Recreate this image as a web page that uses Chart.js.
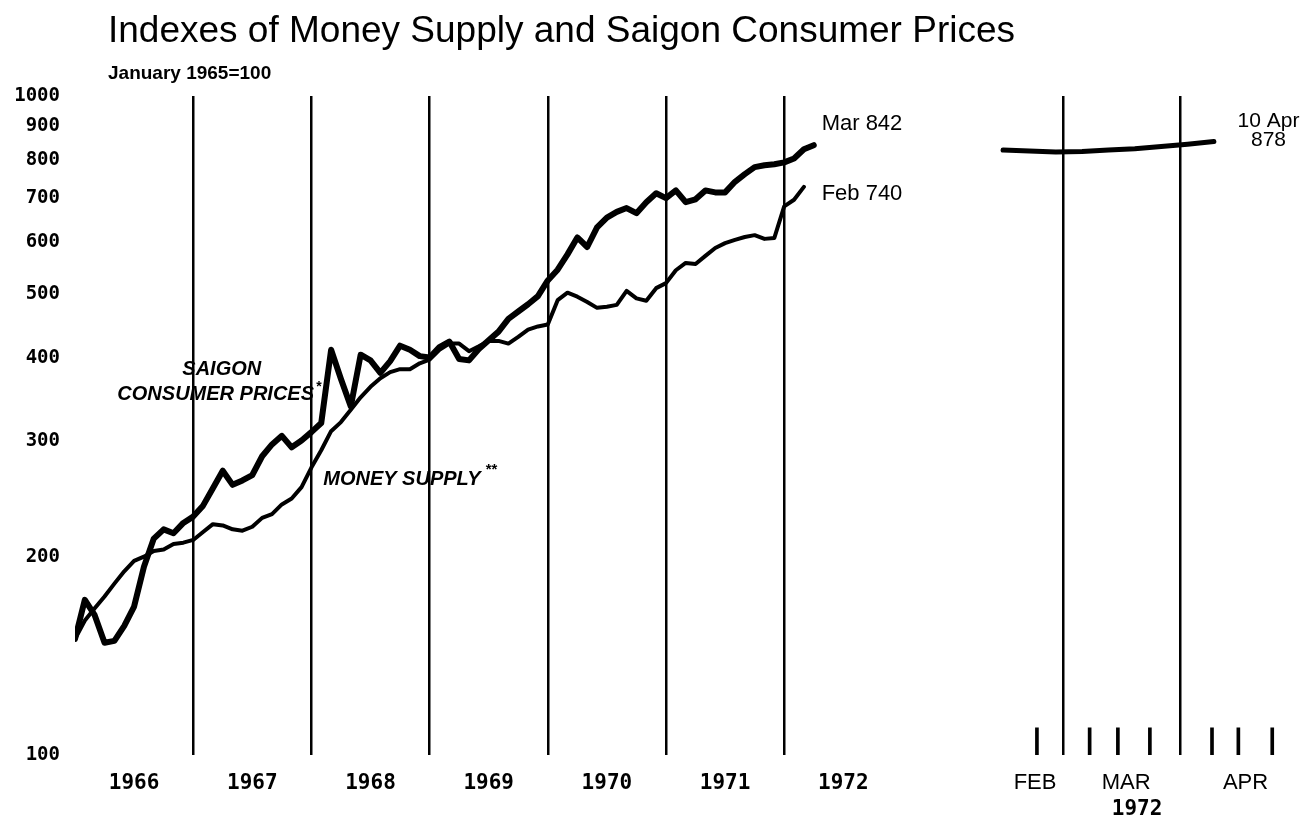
<!DOCTYPE html>
<html>
<head>
<meta charset="utf-8">
<title>Indexes of Money Supply and Saigon Consumer Prices</title>
<script src="https://cdn.jsdelivr.net/npm/chart.js@4.4.1/dist/chart.umd.min.js"></script>
<style>
  html, body { margin: 0; padding: 0; background: #fff; }
  body { position: relative; width: 1304px; height: 820px; overflow: hidden; }
  canvas { position: absolute; top: 0; }
  #monthly { left: 0; }
  #weekly { left: 960px; }
  .head { position: absolute; left: 108px; white-space: nowrap; color: #000; line-height: 1;
          font-family: 'Liberation Sans', Arial, sans-serif; }
  #title { top: 11px; font-size: 37px; }
  #subtitle { top: 63px; font-size: 19px; font-weight: bold; }
</style>
</head>
<body>
<canvas id="monthly" width="960" height="820"></canvas>
<canvas id="weekly" width="344" height="820"></canvas>
<div class="head" id="title">Indexes of Money Supply and Saigon Consumer Prices</div>
<div class="head" id="subtitle">January 1965=100</div>
<script>
const years = ['1966', '1967', '1968', '1969', '1970', '1971', '1972'];
const yTicks = [100, 200, 300, 400, 500, 600, 700, 800, 900, 1000];

// monthly index, Dec 1965 .. Mar 1972
const consumerPrices = [
  150, 172, 163, 148, 149, 157, 168, 193, 213, 220, 217, 225,
  230, 239, 254, 270, 257, 261, 266, 284, 296, 305, 293, 300,
  309, 319, 412, 372, 338, 405, 397, 380, 396, 418, 412, 403,
  401, 416, 424, 399, 397, 413, 426, 439, 459, 471, 483, 497,
  525, 545, 575, 610, 590, 632, 654, 667, 676, 664, 690, 712,
  700, 719, 690, 697, 719, 714, 714, 741, 761, 780, 785, 788,
  793, 804, 830, 842
];

// monthly index, Dec 1965 .. Feb 1972
const moneySupply = [
  150, 160, 167, 174, 182, 190, 197, 200, 204, 205, 209, 210,
  212, 218, 224, 223, 220, 219, 222, 229, 232, 240, 245, 255,
  273, 290, 310, 320, 334, 349, 362, 373, 381, 385, 385, 393,
  398, 412, 421, 421, 410, 417, 425, 425, 421, 431, 442, 447,
  450, 490, 503, 496, 487, 477, 479, 482, 506, 493, 489, 511,
  520, 544, 558, 556, 572, 588, 598, 605, 611, 615, 607, 609,
  680, 696, 728
];

// weekly prices 1972, x = days counted from 1 Feb
const weekDays = [13, 20, 27, 34, 41, 48, 55, 62, 69];
const weeklyPrices = [828, 825, 822, 824, 828, 832, 838, 845, 853];
const weekMarks = [22, 36, 43.5, 52, 68.5, 75.5, 84.5];
const monthStarts = [29, 60];
const monthNames = ['FEB', 'MAR', 'APR'];
const monthNameDays = [21.5, 45.7, 77.4];

const SANS = "'Liberation Sans', Arial, sans-serif";
const MONO = "'DejaVu Sans Mono', monospace";
const BLACK = '#000';
const CLEAR = 'rgba(0,0,0,0)';

Chart.defaults.color = BLACK;
Chart.defaults.font.family = SANS;

// free text placed in data coordinates
const notes = {
  id: 'notes',
  afterDraw(chart, args, opts) {
    const ctx = chart.ctx, xs = chart.scales.x, ys = chart.scales.y;
    ctx.save();
    ctx.fillStyle = BLACK;
    ctx.textBaseline = 'middle';
    opts.items.forEach(n => {
      ctx.font = n.font;
      ctx.textAlign = n.align || 'left';
      ctx.fillText(n.text, xs.getPixelForValue(n.x), ys.getPixelForValue(n.y));
    });
    ctx.restore();
  }
};

function lineSet(label, xs, ys, width) {
  return {
    type: 'line',
    label: label,
    data: ys.map((v, i) => ({ x: xs[i], y: v })),
    borderColor: BLACK,
    borderWidth: width,
    borderCapStyle: 'round',
    borderJoinStyle: 'round',
    pointRadius: 0,
    tension: 0,
    fill: false
  };
}

const italic = "italic bold 20px " + SANS;
const plain = "22px " + SANS;
const small = "21px " + SANS;

new Chart(document.getElementById('monthly'), {
  type: 'line',
  data: {
    datasets: [
      lineSet('Saigon consumer prices', consumerPrices.map((_, i) => i), consumerPrices, 6),
      lineSet('Money supply', moneySupply.map((_, i) => i), moneySupply, 4)
    ]
  },
  options: {
    responsive: false,
    animation: false,
    devicePixelRatio: 1,
    layout: { padding: { top: 96, right: 57.6, bottom: 0, left: 0 } },
    plugins: {
      legend: { display: false },
      tooltip: { enabled: false },
      notes: {
        items: [
          { text: 'SAIGON', x: 14.9, y: 384, font: italic, align: 'center' },
          { text: 'CONSUMER PRICES', x: 4.3, y: 353, font: italic },
          { text: '*', x: 24.5, y: 361, font: 'bold 14px ' + SANS },
          { text: 'MONEY SUPPLY', x: 25.2, y: 262, font: italic },
          { text: '**', x: 41.7, y: 271, font: 'bold 15px ' + SANS },
          { text: 'Mar 842', x: 75.8, y: 907, font: plain },
          { text: 'Feb 740', x: 75.8, y: 710, font: plain }
        ]
      }
    },
    scales: {
      x: {
        type: 'linear', min: 0, max: 84, bounds: 'data', offset: false,
        afterBuildTicks: s => {
          s.ticks = [];
          for (let m = 6; m <= 78; m += 6) s.ticks.push({ value: m });
        },
        afterFit: s => { s.height = 65; },
        grid: {
          offset: false,
          drawTicks: false,
          lineWidth: 2.5,
          color: c => (c.tick && c.tick.value % 12 === 0) ? BLACK : CLEAR
        },
        border: { display: false },
        ticks: {
          autoSkip: false, maxRotation: 0, padding: 16,
          font: { family: MONO, weight: 'bold', size: 21 },
          callback: v => v % 12 === 6 ? years[(v - 6) / 12] : ''
        }
      },
      y: {
        type: 'logarithmic', min: 100, max: 1000, bounds: 'data',
        afterBuildTicks: s => { s.ticks = yTicks.map(v => ({ value: v })); },
        afterFit: s => { s.width = 75; },
        grid: { display: false, drawTicks: false },
        border: { display: false },
        ticks: {
          autoSkip: false, padding: 15,
          font: { family: MONO, weight: 'bold', size: 19 },
          callback: v => String(v)
        }
      }
    }
  },
  plugins: [notes]
});

new Chart(document.getElementById('weekly'), {
  type: 'line',
  data: {
    datasets: [
      lineSet('Saigon consumer prices, weekly', weekDays, weeklyPrices, 5),
      {
        type: 'bar',
        label: 'weeks',
        data: weekMarks.map(d => ({ x: d, y: [100, 110] })),
        backgroundColor: BLACK,
        borderWidth: 0,
        barThickness: 3,
        grouped: false
      }
    ]
  },
  options: {
    responsive: false,
    animation: false,
    devicePixelRatio: 1,
    layout: { padding: { top: 96, right: 11.05, bottom: 0, left: 31.75 } },
    plugins: {
      legend: { display: false },
      tooltip: { enabled: false },
      notes: {
        items: [
          { text: '10 Apr', x: 83.5, y: 916, font: small, align: 'center' },
          { text: '878', x: 83.5, y: 858, font: small, align: 'center' }
        ]
      }
    },
    scales: {
      x: {
        type: 'linear', min: 10, max: 90, bounds: 'data', offset: false,
        afterBuildTicks: s => {
          s.ticks = monthStarts.concat(monthNameDays)
            .sort((a, b) => a - b)
            .map(v => ({ value: v }));
        },
        afterFit: s => { s.height = 40; },
        grid: {
          offset: false,
          drawTicks: false,
          lineWidth: 2.5,
          color: c => (c.tick && monthStarts.includes(c.tick.value)) ? BLACK : CLEAR
        },
        border: { display: false },
        ticks: {
          autoSkip: false, maxRotation: 0, padding: 15,
          font: { size: 22 },
          callback: v => {
            const k = monthNameDays.indexOf(v);
            return k < 0 ? '' : monthNames[k];
          }
        }
      },
      year: {
        type: 'linear', position: 'bottom', weight: 1, min: 10, max: 90, bounds: 'data', offset: false,
        afterBuildTicks: s => { s.ticks = [{ value: 48.6 }]; },
        afterFit: s => { s.height = 25; },
        grid: { display: false, drawTicks: false, offset: false },
        border: { display: false },
        ticks: {
          autoSkip: false, maxRotation: 0, padding: 2,
          font: { family: MONO, weight: 'bold', size: 21 },
          callback: () => '1972'
        }
      },
      y: { type: 'logarithmic', min: 100, max: 1000, display: false }
    }
  },
  plugins: [notes]
});
</script>
</body>
</html>
